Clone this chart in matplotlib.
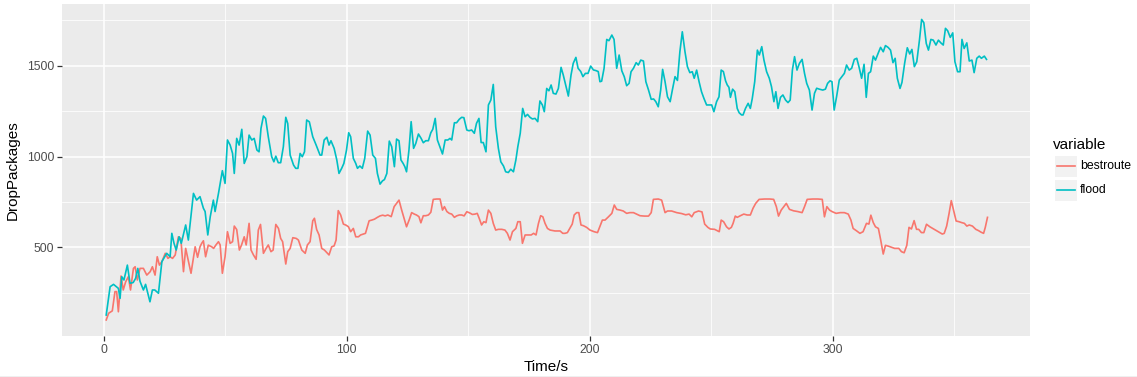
import matplotlib
matplotlib.use("Agg")
import matplotlib.pyplot as plt
from matplotlib.patches import Rectangle
from matplotlib.lines import Line2D

plt.rcParams['font.family'] = ['Liberation Sans', 'DejaVu Sans']

# values (time in s, dropped packages)
flood_t = [1, 2.6, 4, 6, 6.7, 7.4, 8.3, 9.7, 10.8, 12.1, 13.1, 14, 14.9, 16.3, 17.2, 19, 20, 21, 22.5, 23.9,
           25.9, 27.3, 28, 28.9, 29.8, 31, 31.9, 33.7, 34.8, 36.9, 38.2, 39.6, 41, 41.7, 42.8, 43.8, 45.1, 45.8,
           47.2, 48.8, 49.9, 50.9, 52, 53, 53.7, 54.7, 55.7, 56.8, 57.8, 58.9, 59.8, 60.9, 61.9, 63, 63.9, 64.7,
           65.7, 66.6, 67.7, 69.1, 70, 70.8, 71.8, 72.8, 73.9, 74.9, 75.7, 76.7, 78.1, 79, 79.9, 80.8, 81.7, 82.6,
           83.5, 84.6, 86, 87.4, 89, 89.7, 90.7, 91.8, 92.7, 93.5, 94.8, 95.9, 96.8, 97.9, 98.8, 99.9, 100.8,
           101.6, 102.7, 103.7, 104.4, 105.4, 106.4, 107.4, 108.6, 109.6, 110.7, 111.8, 112.6, 113.7, 114.7,
           115.5, 116.5, 117.5, 118.5, 119.6, 120.5, 121.5, 122.3, 123.2, 123.9, 124.6, 125.6, 126.5, 127.5,
           128.4, 129.5, 130.6, 131.5, 132.5, 133.6, 134.6, 135.4, 136.4, 137.3, 138.4, 139.4, 140.5, 141.6,
           142.5, 143.2, 144.3, 145.2, 146.3, 147.3, 148.2, 149.4, 150.3, 151.4, 152.5, 153.4, 154.4, 155.3,
           156.2, 157.3, 158.3, 159.3, 160.3, 161.3, 162.4, 163.4, 164.5, 165.4, 166.5, 167.5, 168.6, 169.6,
           170.4, 171.4, 172.4, 173.4, 174.4, 175.4, 176.4, 177.5, 178.6, 179.5, 180.5, 181.3, 182.3, 183.2,
           184.1, 185, 186.1, 187.1, 188.2, 189.1, 190.1, 191.2, 192.3, 193.2, 194.3, 195.2, 196.3, 197.2,
           198.2, 199.3, 200.4, 201.5, 202.6, 203.5, 204.2, 204.9, 205.9, 207, 207.9, 209.1, 210, 211.1, 212.1,
           213.2, 214.2, 215.2, 216.2, 217, 218, 219.1, 220, 221, 222.1, 223.1, 224.2, 225.3, 226.3, 227.2,
           228.2, 229.2, 230, 231, 232, 233.1, 234, 235.1, 236.1, 237.1, 238.1, 239.2, 240.2, 241.2, 242.2,
           243, 244, 245, 246, 247, 248.1, 249.1, 250.2, 251.1, 252.2, 253.2, 254.1, 255, 255.9, 256.6, 257.3,
           257.9, 258.8, 259.7, 260.7, 261.5, 262.5, 263.1, 264.1, 265.2, 266.1, 266.9, 267.9, 269, 269.8,
           270.8, 271.7, 272.8, 273.9, 274.8, 275.8, 276.6, 277.5, 278.5, 279.5, 280.6, 281.6, 282.5, 283.4,
           284.3, 285.3, 286.3, 287.4, 288.4, 289.3, 290.4, 291.5, 292.5, 293.4, 294.5, 295.9, 297, 297.9,
           298.9, 299.7, 300.6, 301.6, 302.7, 303.8, 304.8, 305.7, 306.8, 307.8, 308.9, 309.9, 310.8, 311.9,
           312.9, 313.8, 314.7, 315.6, 316.7, 317.6, 318.8, 319.7, 320.8, 321.7, 322.8, 323.8, 324.8, 325.7,
           326.6, 327.7, 328.5, 329.6, 330.7, 331.7, 332.6, 333.6, 334.6, 335.7, 336.6, 337.5, 338.5, 339.4,
           340.4, 341.4, 342.5, 343.5, 344.5, 345.5, 346.4, 347.3, 348.4, 349.4, 350.3, 351.4, 352.4, 353.2,
           354.1, 355.2, 356.2, 357.3, 358.2, 359.3, 360.3, 361.2, 362.4, 363.3]
flood_v = [127, 283, 296, 274, 219, 338, 320, 402, 302, 306, 329, 384, 313, 265, 296, 200, 265, 265, 247, 421,
           467, 448, 577, 522, 485, 558, 522, 623, 540, 797, 760, 779, 715, 697, 568, 668, 760, 697,
           797, 922, 852, 1091, 1063, 1017, 907, 1100, 1063, 1150, 962, 999, 1118, 1091, 1100, 1036, 1026, 1155,
           1223, 1210, 1109, 999, 971, 1002, 966, 966, 1054, 1216, 1182, 1008, 953, 935, 935, 1017, 999, 1026,
           1201, 1191, 1109, 1063, 1008, 1008, 1091, 1106, 1063, 1087, 1045, 981, 907, 935, 962, 1036, 1131,
           1109, 990, 962, 935, 948, 935, 990, 1140, 1118, 1008, 990, 907, 848, 866,
           873, 907, 1085, 1054, 944, 1096, 1087, 981, 962, 944, 916, 1036, 1192, 1045,
           1072, 1124, 1100, 1076, 1087, 1087, 1131, 1150, 1210, 1091, 1050, 1014, 1091, 1091,
           1100, 1091, 1186, 1186, 1205, 1216, 1214, 1146, 1142, 1146, 1128, 1183, 1210, 1077,
           1077, 1026, 1284, 1311, 1397, 1164, 1045, 971, 948, 916, 912, 930, 916, 981,
           1054, 1128, 1265, 1219, 1232, 1216, 1207, 1210, 1192, 1306, 1284, 1247, 1375, 1362,
           1394, 1348, 1344, 1375, 1491, 1449, 1394, 1333, 1449, 1513, 1546, 1486, 1468, 1440,
           1458, 1458, 1498, 1477, 1473, 1468, 1412, 1415, 1486, 1645, 1638, 1669, 1645, 1486, 1559,
           1472, 1440, 1390, 1403, 1467, 1486, 1517, 1504, 1531, 1526, 1412, 1366, 1315, 1317, 1302,
           1274, 1366, 1480, 1412, 1329, 1302, 1366, 1440, 1419, 1577, 1687, 1577, 1495, 1462, 1467,
           1431, 1476, 1412, 1357, 1320, 1284, 1284, 1284, 1247, 1302, 1329, 1476, 1468, 1417, 1394, 1381,
           1326, 1371, 1357, 1265, 1241, 1229, 1229, 1265, 1293, 1265, 1320, 1412, 1586, 1559,
           1605, 1531, 1467, 1431, 1385, 1302, 1357, 1265, 1326, 1339, 1311, 1297, 1311, 1476,
           1550, 1476, 1513, 1535, 1458, 1403, 1366, 1256, 1348, 1376, 1371, 1366, 1371, 1403,
           1417, 1412, 1256, 1330, 1421, 1440, 1458, 1504, 1476, 1486, 1535, 1541, 1495, 1431,
           1508, 1326, 1458, 1467, 1553, 1531, 1572, 1601, 1577, 1611, 1601, 1586, 1517, 1541,
           1431, 1375, 1408, 1513, 1599, 1565, 1590, 1495, 1522, 1641, 1755, 1737, 1623, 1586,
           1645, 1641, 1614, 1641, 1626, 1614, 1706, 1693, 1656, 1681, 1522, 1467, 1467, 1645,
           1595, 1626, 1526, 1531, 1462, 1541, 1553, 1541, 1553, 1535]

best_t = [1, 2, 3.5, 4.6, 5.3, 6, 7.1, 8, 9, 10.1, 11, 12.2, 12.9, 13.8, 14.9, 16.3, 17.7, 19.1, 20, 21.1,
          22, 22.9, 23.9, 25.3, 26.4, 27.3, 28.3, 29.4, 30.7, 31.7, 32.8, 33.7, 35.9, 37.6, 38.6, 39.6, 40.3,
          41, 41.9, 43, 44.4, 45.2, 46.1, 47.2, 47.9, 48.8, 49.9, 50.9, 52, 53, 53.7, 54.7, 55.8, 56.7, 57.8,
          58.6, 59.8, 60.6, 61.6, 62.7, 63.6, 64.5, 65.7, 66.8, 67.7, 68.8, 69.7, 70.8, 71.9, 72.8, 73.6,
          74.9, 75.7, 76.7, 77.8, 79.2, 80.1, 81.5, 82.9, 83.8, 84.9, 86, 86.7, 87.6, 88.6, 89.7, 90.8, 91.8,
          92.7, 93.8, 94.8, 95.6, 96.5, 97.5, 98.6, 99.7, 100.7, 101.6, 102.7, 103.7, 104.8, 105.7, 106.8,
          107.7, 109.2, 110.3, 111.4, 112.6, 113.7, 114.8, 115.8, 116.9, 118.3, 119.5, 120.5, 121.5, 122.6,
          123.6, 124.6, 125.8, 126.7, 127.8, 128.7, 129.7, 130.5, 131.5, 132.5, 133.6, 134.6, 135.6, 137,
          138.4, 139.4, 140.2, 141.2, 142.2, 143.2, 144.3, 145.2, 146.3, 147.3, 148.3, 149.4, 150.5, 151.7,
          152.8, 153.7, 154.5, 155.5, 156.4, 157.3, 158.3, 159.3, 160.3, 161.3, 162.4, 163.8, 165.1, 166.1,
          167.2, 168.2, 169.6, 170.4, 171.4, 172.3, 173.4, 174.8, 175.9, 176.9, 177.9, 178.9, 179.8, 180.7,
          181.6, 182.6, 183.7, 185.7, 187.8, 188.9, 189.8, 190.8, 191.8, 192.8, 193.6, 194.6, 195.5, 196.4,
          197.4, 198.7, 200.1, 201.8, 203.2, 205.2, 206.3, 207.7, 209.1, 210.1, 211.1, 212.5, 213.8, 215.2,
          216.5, 218, 219.3, 220.7, 222.5, 224.2, 225.3, 226.2, 228.2, 229.6, 231, 232, 233.7, 235.8, 237.8,
          239.5, 240.9, 242, 243, 244.8, 246.2, 247.3, 248.6, 249.6, 251.4, 253.3, 254.1, 255.1, 256.3,
          257.3, 258.3, 259, 259.9, 260.7, 262, 263.4, 264.8, 266.1, 267.2, 268.3, 269.7, 272, 274.1, 275.7,
          276.8, 277.7, 278.8, 279.9, 280.9, 282.2, 283.9, 285.6, 287.4, 288.4, 289.5, 291.8, 293.9, 295.7,
          296.6, 297.6, 298.7, 299.7, 301.4, 303.1, 304.8, 306.4, 307.5, 308.4, 309.8, 311.2, 312.5, 313.9,
          314.9, 315.7, 316.7, 317.6, 318.8, 319.7, 320.8, 321.7, 322.8, 324.2, 325.5, 327.2, 328.3, 329.4,
          330.5, 331.4, 332.4, 333.5, 334.5, 335.4, 336.5, 337.5, 338.6, 340, 341.8, 343.4, 345.1, 345.9,
          346.9, 347.9, 348.8, 349.9, 350.8, 352, 353.1, 354.2, 355.2, 356.2, 357.5, 358.9, 360, 361.1,
          362.1, 362.8, 363.7]
best_v = [100, 137, 150, 256, 256, 145, 342, 265, 310, 338, 265, 384, 393, 320, 384, 384, 347, 366, 393, 347,
          448, 402, 421, 467, 439, 448, 439, 458, 558, 549, 366, 494, 357, 503, 445, 503, 522,
          536, 448, 512, 503, 494, 512, 531, 513, 357, 448, 586, 522, 531, 617, 598, 485, 513, 558,
          513, 632, 485, 458, 434, 595, 626, 467, 494, 513, 476, 485, 626, 604, 549, 531,
          408, 476, 494, 553, 549, 540, 485, 467, 513, 531, 646, 660, 598, 568, 494, 485, 471,
          458, 503, 508, 540, 702, 678, 628, 622, 613, 586, 604, 558, 558, 568, 573,
          577, 646, 650, 655, 665, 673, 677, 673, 678, 669, 724, 742, 760, 705,
          660, 613, 655, 691, 683, 678, 669, 635, 674, 674, 678, 693, 764, 766,
          766, 705, 724, 697, 687, 683, 665, 673, 678, 678, 673, 696, 690, 681,
          683, 687, 660, 623, 641, 636, 705, 687, 632, 595, 599, 599, 595, 577,
          540, 586, 604, 641, 641, 522, 568, 568, 568, 577, 568, 632, 674, 668,
          632, 604, 595, 590, 590, 577, 577, 581, 604, 628, 678, 691, 691, 623,
          619, 610, 595, 586, 581, 650, 650, 668, 687, 733, 709, 705, 700, 687,
          691, 691, 683, 674, 672, 672, 691, 764, 766, 760, 691, 700, 700, 691, 686,
          679, 683, 668, 691, 700, 695, 628, 610, 601, 599, 586, 650, 641, 613,
          601, 610, 632, 672, 665, 674, 683, 678, 678, 715, 742, 764, 766, 766, 764,
          724, 672, 705, 724, 742, 709, 701, 697, 691, 724, 764, 766, 766, 764,
          668, 724, 705, 697, 687, 691, 691, 683, 650, 604, 591, 577, 586, 632,
          628, 677, 636, 613, 604, 544, 463, 511, 507, 500, 494, 494, 476, 470,
          511, 610, 601, 647, 599, 599, 581, 581, 627, 613, 599, 586, 573, 577,
          617, 687, 757, 696, 645, 641, 636, 632, 617, 623, 617, 599, 592, 583,
          577, 610, 665]

series_names = ["bestroute", "flood"]
series_colors = ["#F8766D", "#00BFC4"]

W, H = 1137, 377
fig = plt.figure(figsize=(W / 100, H / 100), dpi=100)
ax = fig.add_axes([62 / W, 1 - 336 / H, (1030 - 62) / W, (336 - 4) / H])
ax.set_facecolor("#EBEBEB")

ax.plot(best_t, best_v, color=series_colors[0], lw=1.2, zorder=3)
ax.plot(flood_t, flood_v, color=series_colors[1], lw=1.2, zorder=3)

ax.set_xlim(-17.2, 381.2)
ax.set_ylim(11.6, 1840)
ax.set_xticks([0, 100, 200, 300])
ax.set_xticks([50, 150, 250, 350], minor=True)
ax.set_yticks([500, 1000, 1500])
ax.set_yticks([250, 750, 1250, 1750], minor=True)
ax.grid(which="major", color="white", lw=1.1, zorder=1)
ax.grid(which="minor", color="white", lw=0.55, zorder=1)
ax.set_axisbelow(True)
for s in ax.spines.values():
    s.set_visible(False)
ax.tick_params(which="major", length=3.5, width=0.9, color="#333333",
               labelsize=8.7, labelcolor="#4D4D4D", pad=2)
ax.tick_params(which="minor", length=0)

ax.set_xlabel("Time/s", fontsize=11, color="black", labelpad=3)
ax.set_ylabel("DropPackages", fontsize=11, color="black", labelpad=5)

# legend drawn at the right like ggplot2
fig.text(1053 / W, 1 - 145 / H, "variable", fontsize=11, va="center", ha="left")
for i, (name, col) in enumerate(zip(series_names, series_colors)):
    yc = 166 + 24 * i
    fig.add_artist(Rectangle((1055 / W, 1 - (yc + 10.5) / H), 22 / W, 21 / H,
                             transform=fig.transFigure, facecolor="#F2F2F2", edgecolor="none"))
    fig.add_artist(Line2D([1057 / W, 1075 / W], [1 - yc / H, 1 - yc / H],
                          transform=fig.transFigure, color=col, lw=1.2))
    fig.text(1080 / W, 1 - yc / H, name, fontsize=8.8, va="center", ha="left")

fig.add_artist(Line2D([0, 1], [0.5 / H, 0.5 / H], transform=fig.transFigure, color="#B0B0B0", lw=1))

fig.savefig("out.png", dpi=100)
